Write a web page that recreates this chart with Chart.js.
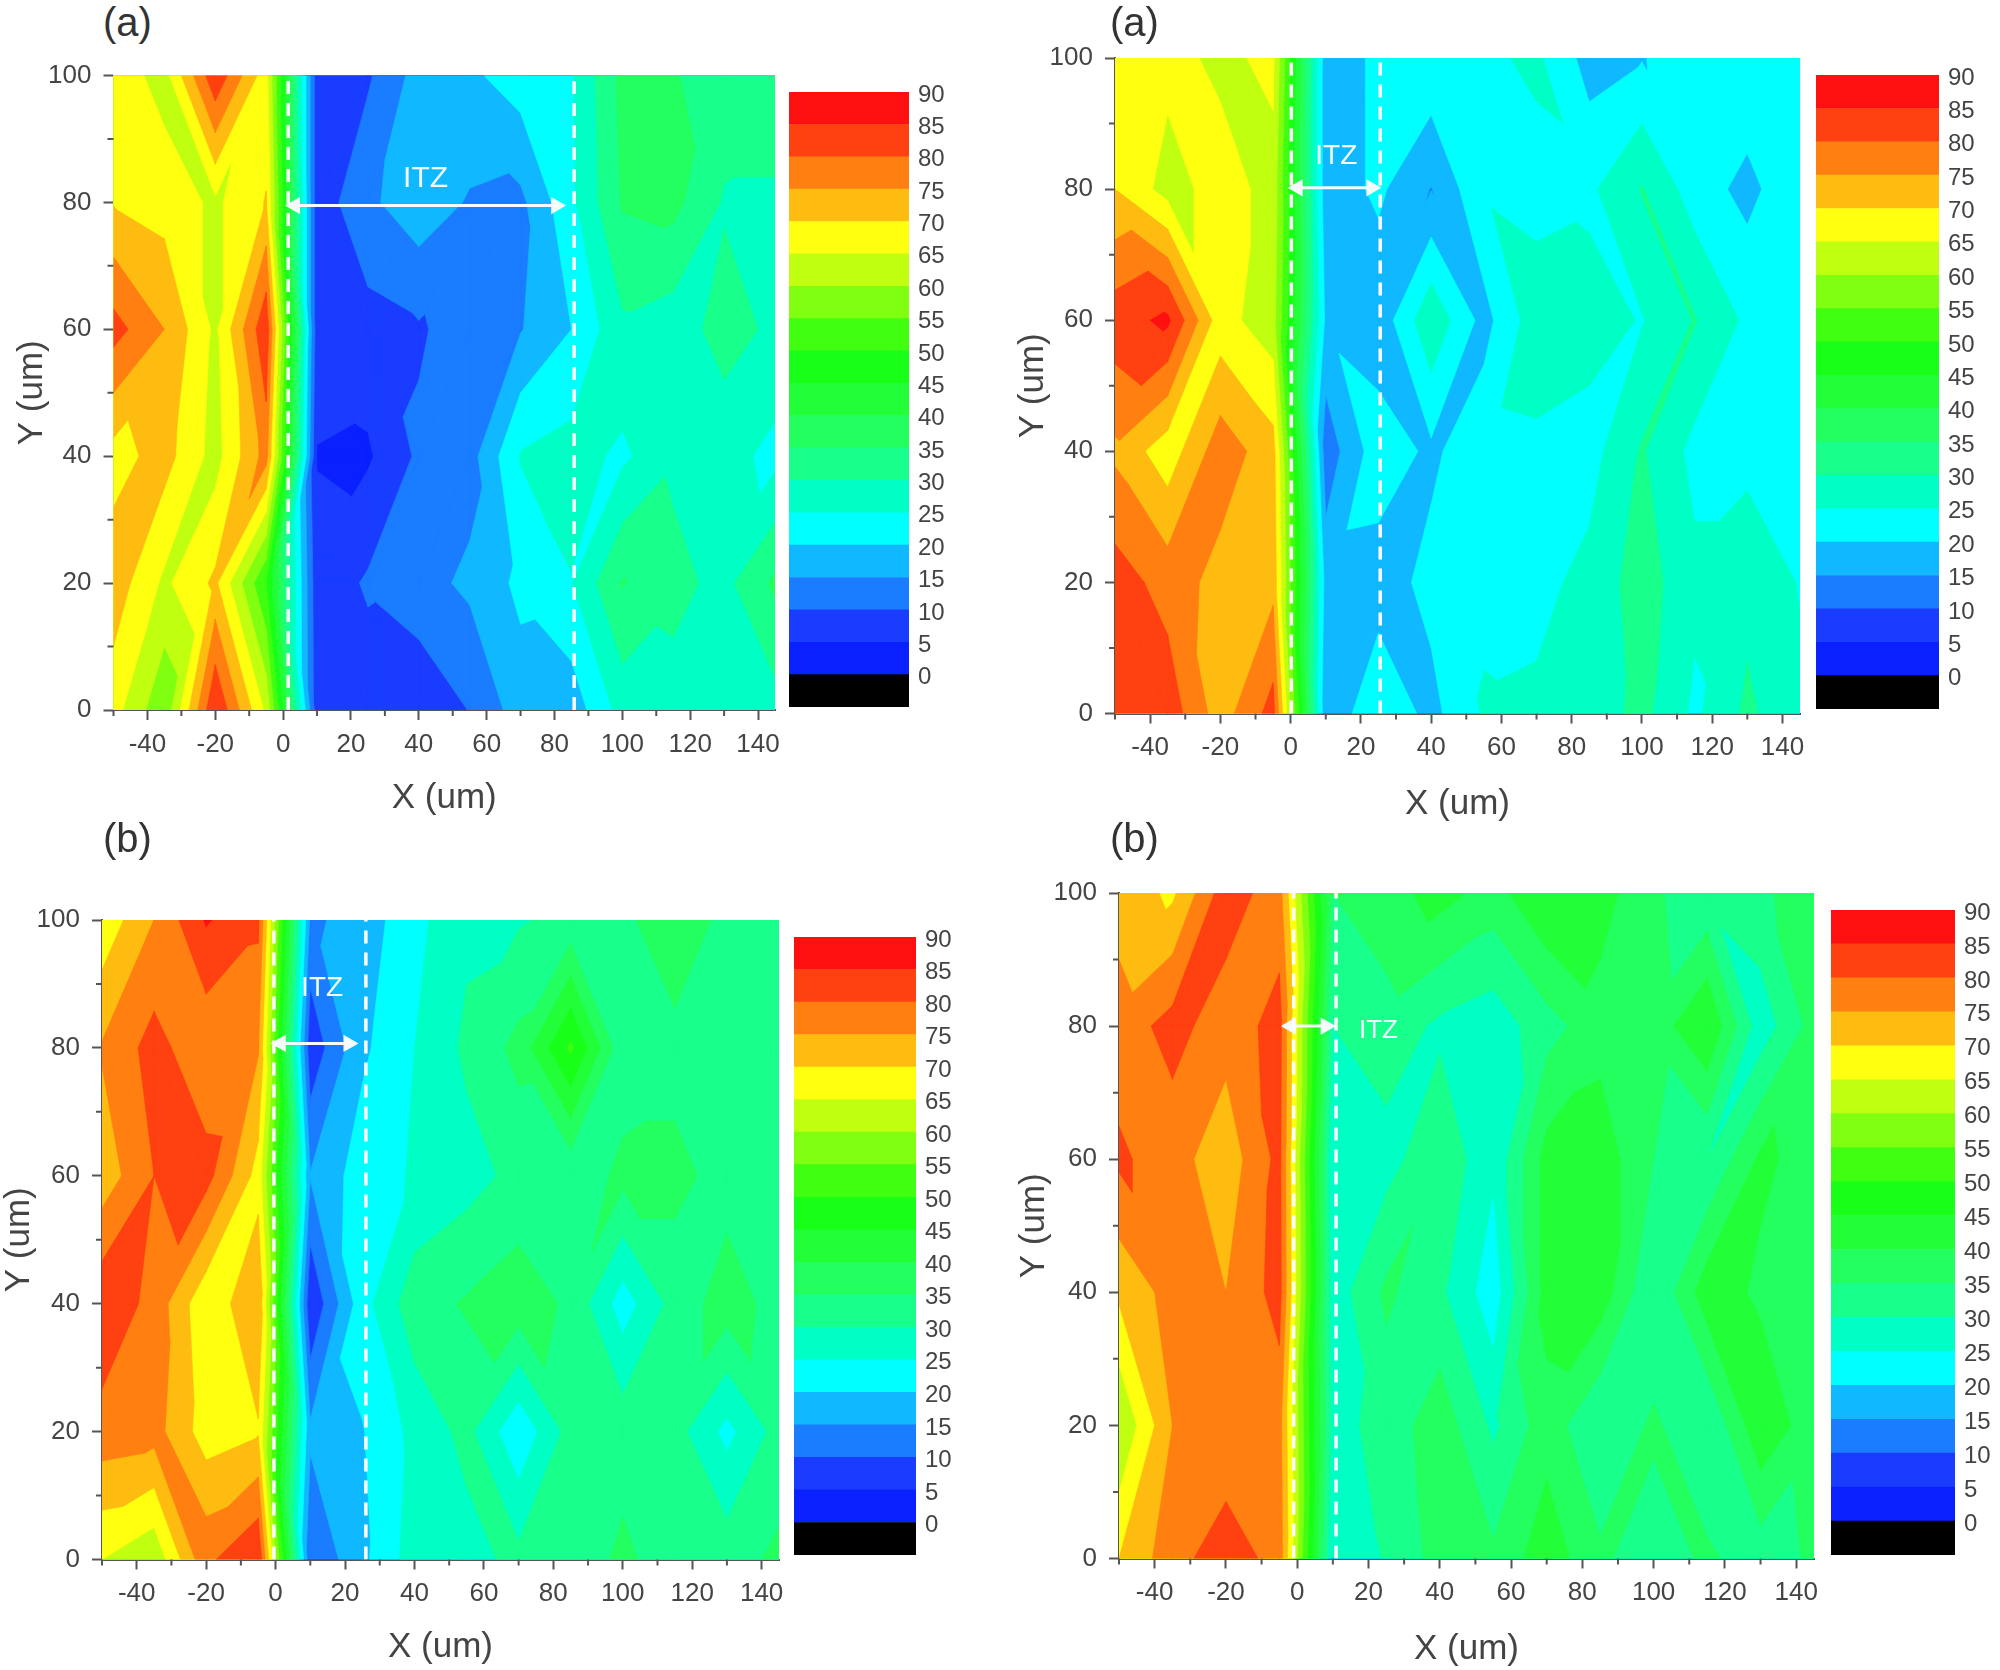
<!DOCTYPE html>
<html><head><meta charset="utf-8">
<script src="https://cdn.jsdelivr.net/npm/chart.js@4"></script>
<style>
html,body{margin:0;padding:0;background:#fff;width:2000px;height:1670px;overflow:hidden;position:relative}
canvas{position:absolute;display:block;filter:blur(0.7px)}
.tag{position:absolute;font:40px "Liberation Sans",sans-serif;color:#333;line-height:44px}
</style></head><body>
<script>
const xPositions=[-50,-35,-20,-5,10,25,40,55,70,85,100,115,130,145];
const yPositions=[0,20,40,60,80,100];
const bandLevels=[0,5,10,15,20,25,30,35,40,45,50,55,60,65,70,75,80,85];
const bandColors=['#0a20ff','#1a3cff','#1a7cff','#10b8ff','#00ffff','#00ffc4','#18ff8c','#24ff60','#22ff38','#18ff18','#40ff10','#80ff10','#c0ff10','#ffff10','#ffbc10','#ff8010','#ff4010','#ff1010'];
const belowColor='#000000';
const xMajor=[-40,-20,0,20,40,60,80,100,120,140];
const xMinor=[-50,-30,-10,10,30,50,70,90,110,130];
const yMajor=[0,20,40,60,80,100];
const yMinor=[10,30,50,70,90];
const barTicks=[0,5,10,15,20,25,30,35,40,45,50,55,60,65,70,75,80,85,90];

const gridA1=[
[67,56,85,64,7,7,6,10.2,17.5,17,27,28,28,28],
[73,64,71,50,6.5,10.7,13.2,16,21.2,24.8,35.3,31.5,28.5,36],
[68,72,63,77,4.8,4.3,10.9,13,25.3,27,24,29,27,23.5],
[82,75,64,84,7,8,9.4,12.5,14.7,20,29,27.3,32,29],
[69.7,68,64,70.3,7,14,18,14.5,13.8,24,35.5,36.5,29.5,29.5],
[68,63,84,67,7,9.3,17,19,22.6,24.5,36.5,35.3,33,32]];
const gridA2=[
[83,83,72.5,82,16,24,18.5,25.5,26,27,31.5,24,31,26],
[82.5,78,73,73.5,18,17.5,21.5,24,23.5,26.5,32.5,26.3,28.5,24.7],
[74,67,78,72,12,23,19,23.5,24,23,30.5,23.5,23.5,23],
[83,86,67,62,19,16.5,29,18.2,28,27,24.7,30.3,24,24],
[70,63,67,63.5,17,21,14.8,24.5,23,24,30.3,22.5,18.5,24],
[68,66.5,64,66,17,21,24,24,26,18,19.7,23,24,24]];
const gridB1=[
[65,61,78.8,85,10.5,18.8,27.5,28,31.5,32,36,32.5,33,36],
[78,77,67.5,69.5,16,19.7,26.5,31.5,21,32,33,32,23.5,32],
[84,78.3,66,74.6,5.5,23,33,35.5,38,34,22.5,32,37.5,33],
[72,80,82,68,15.3,22.6,25.5,28,31.5,31,36.5,36.5,33,33],
[75.5,82,76,75.5,6.5,19,25,31,36.5,51,31.5,33,33,33],
[66.5,75,85.5,81,14,17.2,23.5,29,29.5,31.5,33.5,39.5,33,33]];
const gridB2=[
[70,78,83,78,25,30.5,37,36,43,36,32,36,32,36],
[60,75,76,77,28,32,38,29,38,30,36,30,44,37],
[71,77,75,82,27,36,31,22,42,43,30,43,39,38],
[81,77,72,81.5,25,28,34,26,42,43,35,30,41,38],
[77,82,77,82,30,33,29,27,33,38,37,45,27,37],
[73,69,83,77,35,38,42,38,45,42,36,31,34,38]];

const panels=[
 {grid:gridA1,plot:[113.5,775,75.5,710],yTitleX:32,xTitleY:798,bar:[789,909,92,707],tag:'(a)',tagX:103,tagY:0,
  dashes:[[1.5,85.8]],arrow:[3.5,80.5,79.5],itz:[42,83.7,30]},
 {grid:gridA2,plot:[1115,1800,58,713.5],yTitleX:1033,xTitleY:804,bar:[1816,1939,75,709],tag:'(a)',tagX:1110,tagY:0,
  dashes:[[0.2,25.5]],arrow:[2,23,80.2],itz:[13,85,28]},
 {grid:gridB1,plot:[102,779,920,1559.5],yTitleX:19,xTitleY:1647,bar:[794,916,937,1555],tag:'(b)',tagX:103,tagY:816,
  dashes:[[-0.5,26]],arrow:[1.5,21,80.7],itz:[13.4,89.4,28]},
 {grid:gridB2,plot:[1119,1814,893,1558.5],yTitleX:1034,xTitleY:1649,bar:[1831,1955,910,1555],tag:'(b)',tagX:1110,tagY:816,
  dashes:[[-1,10.9]],arrow:[-1.8,8,80],itz:[22.8,79.3,26]}
];

function clipAbove(poly,level){
  const out=[];
  for(let i=0;i<poly.length;i++){
    const a=poly[i],b=poly[(i+1)%poly.length];
    const ain=a[2]>=level,bin=b[2]>=level;
    if(ain)out.push(a);
    if(ain!==bin){
      const t=(level-a[2])/(b[2]-a[2]);
      out.push([a[0]+t*(b[0]-a[0]),a[1]+t*(b[1]-a[1]),level]);
    }
  }
  return out;
}
function cellTriangles(q){
  const d02=Math.abs(q[0][2]-q[2][2]),d13=Math.abs(q[1][2]-q[3][2]);
  return d02<=d13?[[q[0],q[1],q[2]],[q[0],q[2],q[3]]]:[[q[0],q[1],q[3]],[q[1],q[2],q[3]]];
}
const contourPlugin={
  id:'contour',
  beforeDatasetsDraw(chart,args,opts){
    const {ctx,chartArea:ca,scales:{x:sx,y:sy}}=chart;
    const g=opts.grid,tris=[];
    for(let j=0;j<yPositions.length-1;j++)for(let i=0;i<xPositions.length-1;i++){
      tris.push(...cellTriangles([[xPositions[i],yPositions[j],g[j][i]],[xPositions[i+1],yPositions[j],g[j][i+1]],
               [xPositions[i+1],yPositions[j+1],g[j+1][i+1]],[xPositions[i],yPositions[j+1],g[j+1][i]]]));
    }
    ctx.save();
    ctx.beginPath();ctx.rect(ca.left,ca.top,ca.width,ca.height);ctx.clip();
    ctx.fillStyle=belowColor;ctx.fillRect(ca.left,ca.top,ca.width,ca.height);
    bandLevels.forEach((lv,idx)=>{
      ctx.beginPath();
      tris.forEach(t=>{
        const q=clipAbove(t,lv);
        if(q.length<3)return;
        q.forEach((v,n)=>{
          const px=sx.getPixelForValue(v[0]),py=sy.getPixelForValue(v[1]);
          n?ctx.lineTo(px,py):ctx.moveTo(px,py);
        });
        ctx.closePath();
      });
      ctx.fillStyle=bandColors[idx];ctx.strokeStyle=bandColors[idx];ctx.lineWidth=0.6;
      ctx.fill();ctx.stroke();
    });
    ctx.restore();
  },
  afterDraw(chart,args,opts){
    const {ctx,chartArea:ca,scales:{x:sx,y:sy}}=chart;
    ctx.save();
    ctx.strokeStyle='#555';ctx.lineWidth=2;ctx.beginPath();
    xMinor.forEach(v=>{const p=sx.getPixelForValue(v);ctx.moveTo(p,ca.bottom);ctx.lineTo(p,ca.bottom+6);});
    yMinor.forEach(v=>{const p=sy.getPixelForValue(v);ctx.moveTo(ca.left,p);ctx.lineTo(ca.left-6,p);});
    ctx.stroke();
    const it=opts.itz;
    ctx.fillStyle='#f4fbff';ctx.font=it[2]+'px "Liberation Sans",sans-serif';ctx.textAlign='center';ctx.textBaseline='middle';
    ctx.fillText('ITZ',sx.getPixelForValue(it[0]),sy.getPixelForValue(it[1]));
    ctx.restore();
  }
};
function zeroPad(s){s.paddingLeft=s.paddingRight=s.paddingTop=s.paddingBottom=0;}
const labelFont={family:'"Liberation Sans",sans-serif',size:26};
const titleFont={family:'"Liberation Sans",sans-serif',size:35};
const ink='#444';

function makeCanvas(l,t,w,h){
  const c=document.createElement('canvas');
  c.width=w;c.height=h;c.style.left=l+'px';c.style.top=t+'px';c.style.width=w+'px';c.style.height=h+'px';
  document.body.appendChild(c);return c;
}
panels.forEach(p=>{
  const [pl,pr,pt,pb]=p.plot;
  const cx=Math.floor(p.yTitleX-31),cy=Math.floor(pt-25),cw=Math.ceil(pr+30-cx),ch=Math.ceil(p.xTitleY+31-cy);
  const ds=[];
  ds.push({label:'grid',data:[],pointRadius:0,showLine:false});
  yPositions.forEach((y,j)=>xPositions.forEach((x,i)=>ds[0].data.push({x,y,v:p.grid[j][i]})));
  p.dashes[0].forEach(x=>ds.push({label:'boundary',data:[{x,y:0},{x,y:100}],showLine:true,borderColor:'#ffffff',borderWidth:3.5,borderDash:[13,9],pointRadius:0}));
  const [a0,a1,ay]=p.arrow;
  ds.push({label:'ITZ',data:[{x:a0,y:ay},{x:a1,y:ay}],showLine:true,borderColor:'#f4fbff',borderWidth:3,
    pointStyle:'triangle',pointRadius:7,pointRotation:[-90,90],pointBackgroundColor:'#f4fbff',pointBorderColor:'#f4fbff'});
  new Chart(makeCanvas(cx,cy,cw,ch),{
    type:'scatter',data:{datasets:ds},
    plugins:[contourPlugin],
    options:{responsive:false,animation:false,
      layout:{padding:{left:10,top:pt-cy,right:cx+cw-pr,bottom:cy+ch-(p.xTitleY+21)}},
      plugins:{legend:{display:false},tooltip:{enabled:false},contour:{grid:p.grid,itz:p.itz}},
      scales:{
        x:{type:'linear',min:-50,max:145,
          afterBuildTicks:s=>{s.ticks=xMajor.map(value=>({value}));},
          afterFit:s=>{s.height=p.xTitleY+21-pb;zeroPad(s);},
          grid:{drawOnChartArea:false,tickLength:10,tickColor:'#555',tickWidth:2},
          border:{color:'#555',width:2},
          ticks:{font:labelFont,color:ink,padding:9,maxRotation:0,autoSkip:false,callback:v=>String(v)},
          title:{display:true,text:'X (um)',font:titleFont,color:ink,padding:0}},
        y:{type:'linear',min:0,max:100,
          afterBuildTicks:s=>{s.ticks=yMajor.map(value=>({value}));},
          afterFit:s=>{s.width=pl-(cx+10);zeroPad(s);},
          grid:{drawOnChartArea:false,tickLength:10,tickColor:'#555',tickWidth:2},
          border:{color:'#555',width:2},
          ticks:{font:labelFont,color:ink,padding:12,autoSkip:false,callback:v=>String(v)},
          title:{display:true,text:'Y (um)',font:titleFont,color:ink,padding:0}}
      }}
  });
  const [bl,br,bt,bb]=p.bar;
  const bx=bl-4,by=bt-20,bw=br+50-bx,bh=bb+20-by;
  const barSets=[{label:'below',data:[[-5,0]],backgroundColor:belowColor}];
  bandLevels.forEach((lv,i)=>barSets.push({label:lv+'-'+(lv+5),data:[[lv,lv+5]],backgroundColor:bandColors[i]}));
  barSets.forEach(d=>{d.grouped=false;d.barPercentage=1;d.categoryPercentage=1;d.borderWidth=0;});
  new Chart(makeCanvas(bx,by,bw,bh),{
    type:'bar',data:{labels:['scale'],datasets:barSets},
    options:{responsive:false,animation:false,
      layout:{padding:{left:4,right:0,top:20,bottom:20}},
      plugins:{legend:{display:false},tooltip:{enabled:false}},
      scales:{
        x:{display:false},
        y:{position:'right',min:-5,max:90,
          afterBuildTicks:s=>{s.ticks=barTicks.map(value=>({value}));},
          afterFit:s=>{s.width=50;zeroPad(s);},
          grid:{display:false,drawTicks:false},border:{display:false},
          ticks:{font:{family:'"Liberation Sans",sans-serif',size:24},color:ink,padding:9,labelOffset:3,autoSkip:false,callback:v=>String(v)}}
      }}
  });
  const d=document.createElement('div');d.className='tag';d.textContent=p.tag;
  d.style.left=p.tagX+'px';d.style.top=p.tagY+'px';document.body.appendChild(d);
});
</script>
</body></html>
